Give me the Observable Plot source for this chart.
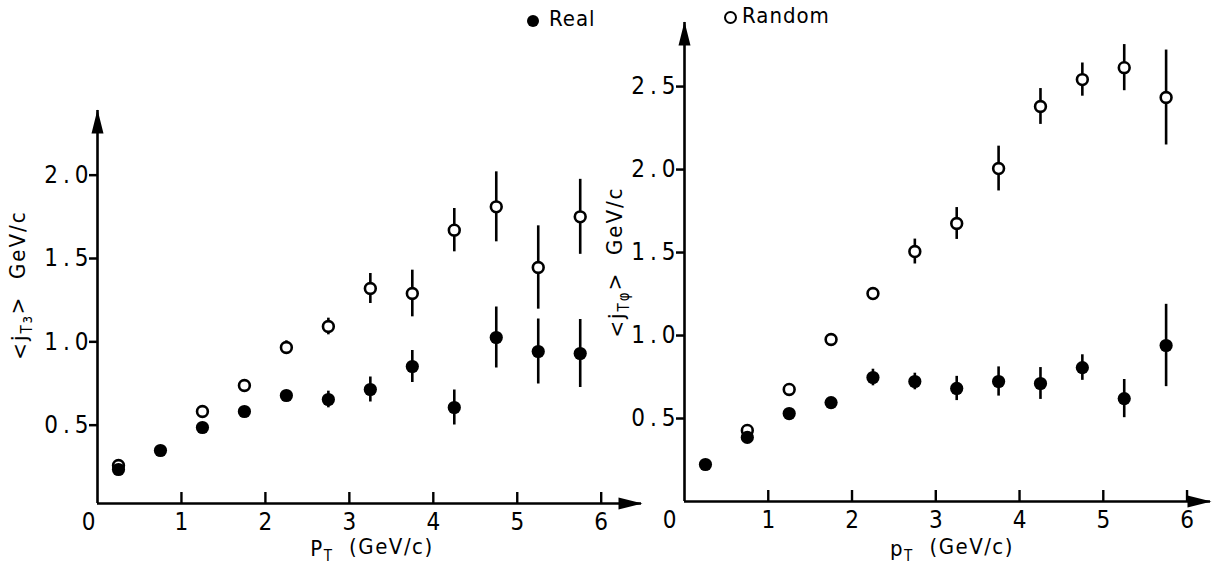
<!DOCTYPE html>
<html><head><meta charset="utf-8">
<script src="https://cdn.jsdelivr.net/npm/d3@7"></script>
<script src="https://cdn.jsdelivr.net/npm/@observablehq/plot@0.6"></script>
<style>
body{margin:0;background:#fff;}
#wrap{position:relative;width:1213px;height:563px;overflow:hidden;background:#fff;}
.panel{position:absolute;top:0;}
.leg{position:absolute;font-family:"DejaVu Sans Condensed","DejaVu Sans",sans-serif;font-size:22px;letter-spacing:1px;color:#000;line-height:1;}
.mk{position:absolute;border-radius:50%;box-sizing:border-box;}
</style></head><body><div id="wrap">
<div class="mk" style="left:527px;top:15px;width:12px;height:12px;background:#000;"></div>
<div class="leg" style="left:549px;top:8px;">Real</div>
<div class="mk" style="left:724px;top:11px;width:13px;height:13px;border:2.2px solid #000;"></div>
<div class="leg" style="left:742px;top:5px;">Random</div>
</div>
<script>
// ---- data ----
const ptBins = [0.25,0.75,1.25,1.75,2.25,2.75,3.25,3.75,4.25,4.75,5.25,5.75];
const etaReal      = [0.234,0.348,0.486,0.582,0.678,0.654,0.714,0.852,0.606,1.026,0.942,0.930];
const etaRealErr   = [0,0,0,0,0.03,0.05,0.075,0.096,0.105,0.183,0.195,0.204];
const etaRandom    = [0.258,null,0.582,0.738,0.966,1.092,1.32,1.29,1.67,1.81,1.446,1.75];
const etaRandomErr = [0,null,0,0.02,0.04,0.05,0.09,0.14,0.13,0.21,0.25,0.225];
const phiReal      = [0.223,0.386,0.530,0.596,0.747,0.723,0.681,0.723,0.711,0.807,0.620,0.940];
const phiRealErr   = [0,0,0,0,0.05,0.05,0.073,0.088,0.096,0.077,0.115,0.248];
const phiRandom    = [null,0.428,0.675,0.976,1.253,1.506,1.675,2.006,2.380,2.542,2.614,2.434];
const phiRandomErr = [null,0,0,0.03,0.03,0.075,0.096,0.135,0.108,0.10,0.139,0.286];
const xTicks    = [1,2,3,4,5,6];
const etaYTicks = [0.5,1.0,1.5,2.0];
const phiYTicks = [0.5,1.0,1.5,2.0,2.5];
const seriesNames = ["Real","Random"];

const FONT = '"DejaVu Sans Condensed","DejaVu Sans",sans-serif';
const arrowUp = {draw(ctx){ctx.moveTo(0,-1);ctx.lineTo(6,23);ctx.lineTo(-6,23);ctx.closePath();}};
const arrowRight = {draw(ctx){ctx.moveTo(1,0);ctx.lineTo(-23,6);ctx.lineTo(-23,-6);ctx.closePath();}};

function panel(o){
  const H = 563;
  const [y0,y1] = o.yDomain;
  const unitY = (H - o.mt - o.mb)/(y1 - y0);
  const real = ptBins.map((p,i)=>({pt:p,v:o.real[i],e:o.realErr[i]})).filter(d=>d.v!=null);
  const rnd  = ptBins.map((p,i)=>({pt:p,v:o.rnd[i],e:o.rndErr[i]})).filter(d=>d.v!=null);
  const svg = Plot.plot({
    width:o.width, height:H,
    marginLeft:o.ml, marginRight:o.mr, marginTop:o.mt, marginBottom:o.mb,
    style:{background:"transparent", fontFamily:FONT, fontSize:"24px", color:"#000", overflow:"visible"},
    x:{domain:[0,o.xmax]},
    y:{domain:o.yDomain},
    marks:[
      Plot.axisX(xTicks,{tickSize:0, tickPadding:9, label:null, tickFormat:d=>String(d)}),
      Plot.axisY(o.yTicks,{tickSize:8, tickPadding:1, label:null, tickFormat:d=>d.toFixed(1), strokeWidth:2.5}),
      Plot.text(["0"],{x:0, y:y0, text:d=>d, dx:o.zeroDx, dy:9, lineAnchor:"top"}),
      Plot.ruleX([0],{strokeWidth:2.6}),
      Plot.ruleY([y0],{strokeWidth:2.6}),
      Plot.ruleX(xTicks,{x:d=>d, y1:y0, y2:y0 + 11/unitY, strokeWidth:2.4}),
      Plot.dot([[0,y1]],{x:d=>d[0], y:d=>d[1], symbol:arrowUp, r:5, fill:"#000", stroke:"none"}),
      Plot.dot([[o.xmax,y0]],{x:d=>d[0], y:d=>d[1], symbol:arrowRight, r:5, fill:"#000", stroke:"none"}),
      Plot.ruleX(rnd,{x:"pt", y1:d=>d.v-d.e, y2:d=>d.v+d.e, strokeWidth:2.6}),
      Plot.dot(rnd,{x:"pt", y:"v", r:5.4, fill:"#fff", stroke:"#000", strokeWidth:2.6, title:()=>seriesNames[1]}),
      Plot.ruleX(real,{x:"pt", y1:d=>d.v-d.e, y2:d=>d.v+d.e, strokeWidth:2.6}),
      Plot.dot(real,{x:"pt", y:"v", r:6.6, fill:"#000", stroke:"none", title:()=>seriesNames[0]})
    ]
  });
  const s = d3.select(svg);
  // spaced-out y tick labels like the original lettering
  s.selectAll('g[aria-label="y-axis tick label"] text')
    .style("letter-spacing","5px").attr("dx", 5);
  // x title
  const xt = s.append("text").attr("x",o.xTitle[0]).attr("y",o.xTitle[1])
    .attr("text-anchor","middle").style("font-size","22px").style("letter-spacing","1.5px").style("font-family",FONT);
  xt.append("tspan").text(o.xVar);
  xt.append("tspan").attr("dy","0.3em").style("font-size","15px").text("T");
  xt.append("tspan").attr("dy","-0.3em").text("  (GeV/c)").attr("xml:space","preserve");
  // y title
  const yt = s.append("text").attr("transform",`translate(${o.yTitle[0]},${o.yTitle[1]}) rotate(-90)`)
    .attr("text-anchor","middle").style("font-size","22px").style("letter-spacing","2px").style("font-family",FONT);
  yt.append("tspan").text("<j");
  yt.append("tspan").attr("dy","0.3em").style("font-size","15px").text("T" + o.yVar);
  yt.append("tspan").attr("dy","-0.3em").text(">  GeV/c");
  svg.classList.add("panel");
  svg.style.left = o.left + "px";
  return svg;
}

const wrap = document.getElementById("wrap");
wrap.appendChild(panel({
  left:0, width:660, ml:97, mr:19, mt:110, mb:60,
  xmax:6.48, yDomain:[0.03,2.388], yTicks:etaYTicks,
  real:etaReal, realErr:etaRealErr, rnd:etaRandom, rndErr:etaRandomErr,
  zeroDx:-9, xVar:"P", yVar:"ɜ", xTitle:[372,556], yTitle:[27,285]
}));
wrap.appendChild(panel({
  left:600, width:613, ml:84, mr:3, mt:22, mb:62,
  xmax:6.28, yDomain:[0,2.886], yTicks:phiYTicks,
  real:phiReal, realErr:phiRealErr, rnd:phiRandom, rndErr:phiRandomErr,
  zeroDx:-15, xVar:"p", yVar:"φ", xTitle:[352,556], yTitle:[24,262]
}));
</script></body></html>
